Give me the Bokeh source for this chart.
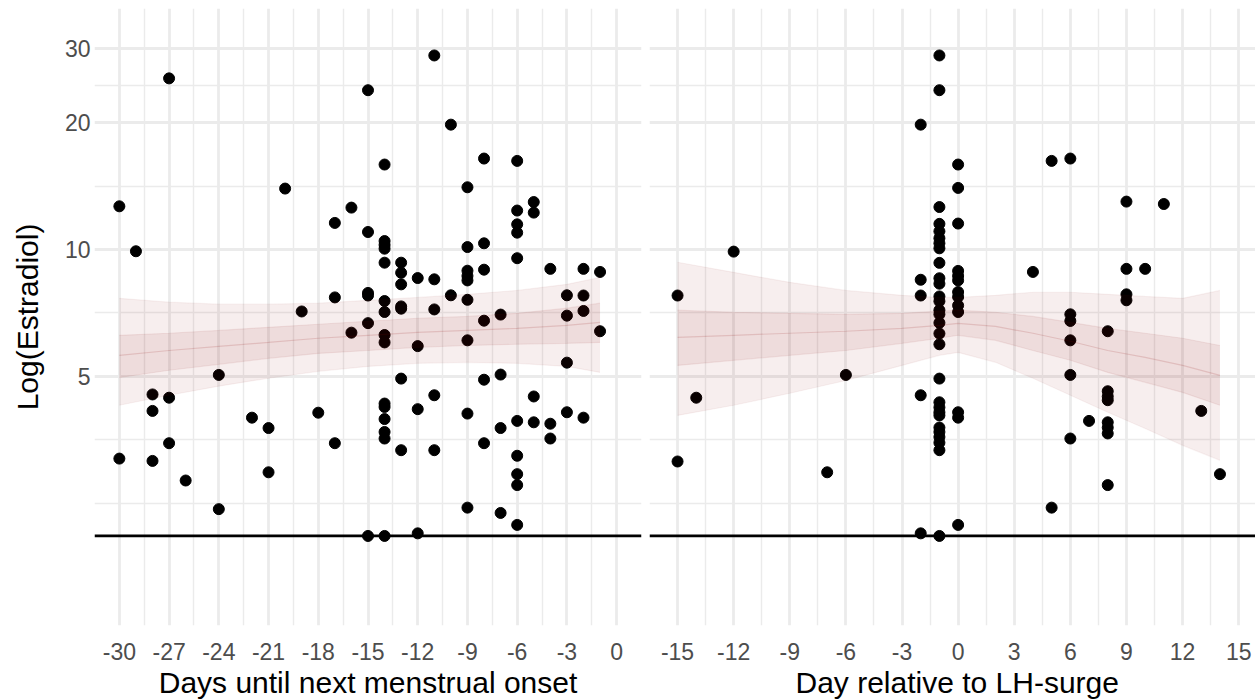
from bokeh.plotting import figure
from bokeh.models import FixedTicker, Range1d, Span, BasicTickFormatter, Title
from bokeh.layouts import row
from bokeh.embed import file_html
from bokeh.resources import INLINE

FONT = "Liberation Sans"

# ---------------- observed points ----------------
# left panel: days until next menstrual onset
left_day = [-30, -30,
            -29,
            -28, -28, -28,
            -27, -27, -27,
            -26,
            -24, -24,
            -22,
            -21, -21,
            -20,
            -19,
            -18,
            -17, -17, -17,
            -16, -16,
            -15, -15, -15, -15, -15, -15,
            -14, -14, -14, -14, -14, -14, -14, -14, -14, -14, -14, -14, -14, -14, -14,
            -13, -13, -13, -13, -13, -13, -13,
            -12, -12, -12, -12,
            -11, -11, -11, -11, -11,
            -10, -10,
            -9, -9, -9, -9, -9, -9, -9, -9, -9,
            -8, -8, -8, -8, -8, -8,
            -7, -7, -7, -7,
            -6, -6, -6, -6, -6, -6, -6, -6, -6, -6,
            -5, -5, -5, -5,
            -4, -4, -4,
            -3, -3, -3, -3,
            -2, -2, -2, -2,
            -1, -1]
left_e2 = [12.67, 3.19,
           9.91,
           4.53, 4.14, 3.15,
           25.5, 4.45, 3.47,
           2.83,
           5.04, 2.42,
           3.99,
           3.77, 2.96,
           13.96,
           7.13,
           4.10,
           11.57, 7.70, 3.47,
           12.58, 6.35,
           23.9, 11.01, 7.89, 7.78, 6.69, 2.09,
           15.92, 10.48, 10.26, 10.05, 9.31, 7.55, 7.11, 6.27, 6.02, 4.31, 4.23, 3.96, 3.69, 3.56, 2.09,
           9.31, 8.81, 8.27, 7.33, 7.24, 4.94, 3.34,
           8.56, 5.90, 4.18, 2.12,
           28.9, 8.50, 7.21, 4.51, 3.34,
           19.8, 7.79,
           14.06, 10.14, 8.91, 8.66, 8.45, 7.60, 6.09, 4.08, 2.44,
           16.45, 10.35, 8.96, 6.78, 4.91, 3.47,
           7.01, 5.05, 3.77, 2.37,
           16.24, 12.38, 11.48, 10.97, 9.54, 3.92, 3.24, 2.93, 2.76, 2.22,
           12.97, 12.24, 4.48, 3.89,
           9.00, 3.86, 3.56,
           7.79, 6.97, 5.39, 4.11,
           9.00, 7.78, 7.15, 3.99,
           8.85, 6.40]

# right panel: day relative to LH-surge
right_day = [-15, -15,
             -14,
             -12,
             -7,
             -6,
             -2, -2, -2, -2, -2,
             -1, -1, -1, -1, -1, -1, -1, -1, -1, -1, -1, -1, -1, -1, -1,
             -1, -1, -1, -1, -1, -1, -1, -1, -1, -1, -1, -1, -1, -1,
             0, 0, 0, 0, 0, 0, 0, 0, 0, 0, 0, 0, 0,
             4,
             5, 5,
             6, 6, 6, 6, 6, 6,
             7,
             8, 8, 8, 8, 8, 8, 8, 8,
             9, 9, 9, 9,
             10,
             11,
             13,
             14]
right_e2 = [7.78, 3.14,
            4.45,
            9.89,
            2.96,
            5.04,
            19.8, 8.48, 7.78, 4.51, 2.12,
            28.9, 23.9, 12.62, 11.51, 11.05, 10.64, 10.35, 10.07, 9.30, 8.55, 8.30, 7.74, 7.54, 7.18, 7.02,
            6.70, 6.32, 5.96, 4.94, 4.34, 4.22, 4.11, 4.04, 3.78, 3.69, 3.59, 3.48, 3.34, 2.09,
            15.92, 14.01, 11.53, 8.90, 8.66, 8.45, 7.93, 7.72, 7.37, 7.11, 4.11, 3.99, 2.22,
            8.85,
            16.24, 2.44,
            16.45, 7.02, 6.77, 6.09, 5.04, 3.56,
            3.92,
            6.40, 4.61, 4.48, 4.39, 3.89, 3.78, 3.66, 2.76,
            13.0, 9.00, 7.83, 7.58,
            9.00,
            12.83,
            4.14,
            2.93]

# ---------------- posterior draw envelope ----------------
left_band_day = [-30, -27, -24, -21, -18, -15, -12, -9, -6, -3, -1]
left_q05 = [4.27, 4.51, 4.74, 4.95, 5.14, 5.28, 5.37, 5.40, 5.37, 5.28, 5.11]
left_q25 = [4.97, 5.17, 5.34, 5.52, 5.67, 5.76, 5.86, 5.92, 5.96, 5.99, 6.02]
left_q50 = [5.61, 5.76, 5.89, 6.02, 6.16, 6.26, 6.36, 6.43, 6.50, 6.61, 6.72]
left_q75 = [6.26, 6.33, 6.43, 6.54, 6.65, 6.76, 6.87, 6.94, 7.06, 7.26, 7.46]
left_q95 = [7.66, 7.50, 7.42, 7.42, 7.46, 7.58, 7.70, 7.83, 8.00, 8.27, 8.59]

right_band_day = [-15, -12, -9, -6, -3, -1, 0, 2, 4, 6, 8, 10, 12, 14]
right_q05 = [4.04, 4.27, 4.56, 4.89, 5.31, 5.61, 5.70, 5.40, 4.95, 4.51, 4.11, 3.76, 3.43, 3.16]
right_q25 = [5.31, 5.46, 5.61, 5.76, 5.99, 6.16, 6.26, 6.09, 5.76, 5.46, 5.11, 4.84, 4.58, 4.27]
right_q50 = [6.19, 6.26, 6.33, 6.40, 6.50, 6.61, 6.68, 6.57, 6.33, 6.06, 5.76, 5.55, 5.31, 5.03]
right_q75 = [7.18, 7.10, 7.06, 7.02, 7.06, 7.14, 7.18, 7.10, 6.94, 6.72, 6.50, 6.33, 6.16, 5.92]
right_q95 = [9.33, 8.83, 8.36, 8.00, 7.79, 7.70, 7.70, 7.79, 7.92, 7.92, 7.83, 7.74, 7.66, 8.00]

# ---------------- axes / reference values ----------------
left_xticks = [-30, -27, -24, -21, -18, -15, -12, -9, -6, -3, 0]
left_xminor = [-31.5, -28.5, -25.5, -22.5, -19.5, -16.5, -13.5, -10.5, -7.5, -4.5, -1.5, 1.5]
right_xticks = [-15, -12, -9, -6, -3, 0, 3, 6, 9, 12, 15]
right_xminor = [-16.5, -13.5, -10.5, -7.5, -4.5, -1.5, 1.5, 4.5, 7.5, 10.5, 13.5]
y_ticks = [5, 10, 20, 30]
y_minor = [2.5, 3.536, 7.071, 14.142, 24.495]
detection_limit = 2.09

left_title = "Days until next menstrual onset"
right_title = "Day relative to LH-surge"
y_title = "Log(Estradiol)"

Y_START, Y_END = 1.281, 37.36
GRID = "#EBEBEB"
RED = "#8B0000"
HEIGHT = 700


def make_panel(width, xr, xticks, xminor, border_left, border_right,
               days, vals, bd, q05, q25, q50, q75, q95,
               title, title_align, title_offset, show_y):
    p = figure(width=width, height=HEIGHT, title=None,
               x_range=Range1d(*xr), y_range=Range1d(Y_START, Y_END),
               y_axis_type="log", output_backend="svg", toolbar_location=None,
               min_border_left=border_left, min_border_right=border_right,
               min_border_top=8, min_border_bottom=75)
    p.outline_line_color = None
    p.background_fill_color = "white"
    p.border_fill_color = "white"

    p.xaxis.ticker = FixedTicker(ticks=xticks)
    p.xaxis.major_label_overrides = {t: str(t) for t in xticks}
    p.xgrid.ticker = FixedTicker(ticks=xticks, minor_ticks=xminor)
    p.yaxis.ticker = FixedTicker(ticks=y_ticks)
    p.ygrid.ticker = FixedTicker(ticks=y_ticks, minor_ticks=y_minor)
    p.yaxis.formatter = BasicTickFormatter()
    p.yaxis.major_label_overrides = {t: str(t) for t in y_ticks}

    for g in (p.xgrid, p.ygrid):
        g.grid_line_color = GRID
        g.grid_line_width = 2.8
        g.minor_grid_line_color = GRID
        g.minor_grid_line_width = 1.4

    for ax in (p.xaxis, p.yaxis):
        ax.axis_line_color = None
        ax.major_tick_line_color = None
        ax.minor_tick_line_color = None
        ax.major_label_text_font = FONT
        ax.major_label_text_font_size = "23px"
        ax.major_label_text_color = "#4D4D4D"
        ax.axis_label_text_font = FONT
        ax.axis_label_text_font_size = "30px"
        ax.axis_label_text_font_style = "normal"
        ax.axis_label_text_color = "black"
    p.xaxis.major_label_standoff = 11
    p.yaxis.major_tick_out = 0
    p.yaxis.major_tick_in = 0
    p.yaxis.minor_tick_out = 0
    p.yaxis.minor_tick_in = 0
    p.yaxis.major_label_standoff = 4

    if show_y:
        p.yaxis.axis_label = y_title
        p.yaxis.axis_label_standoff = 18
    else:
        p.yaxis.visible = False

    # x axis title below the tick labels
    p.add_layout(Title(text=title, align=title_align, offset=title_offset,
                       text_font=FONT, text_font_size="30px",
                       text_font_style="normal", text_color="black",
                       standoff=3), "below")

    # detection limit line
    p.add_layout(Span(location=detection_limit, dimension="width",
                      line_color="black", line_width=2.8))

    # observed points
    p.scatter(days, vals, size=11, color="black")

    # posterior draws envelope
    p.varea(x=bd, y1=q05, y2=q95, fill_color=RED, fill_alpha=0.065)
    p.varea(x=bd, y1=q25, y2=q75, fill_color=RED, fill_alpha=0.075)
    for q, a in ((q05, 0.05), (q25, 0.07), (q50, 0.14), (q75, 0.07), (q95, 0.05)):
        p.line(bd, q, line_color=RED, line_alpha=a, line_width=1.2)
    return p


p1 = make_panel(645, (-31.5, 1.5), left_xticks, left_xminor, 94, 4,
                left_day, left_e2, left_band_day,
                left_q05, left_q25, left_q50, left_q75, left_q95,
                left_title, "center", 0, True)
p2 = make_panel(610, (-16.5, 15.9), right_xticks, right_xminor, 4, 0,
                right_day, right_e2, right_band_day,
                right_q05, right_q25, right_q50, right_q75, right_q95,
                right_title, "left", 146, False)

layout = row(p1, p2, width=1255, height=HEIGHT)
open("out.html", "w").write(file_html(layout, INLINE))
